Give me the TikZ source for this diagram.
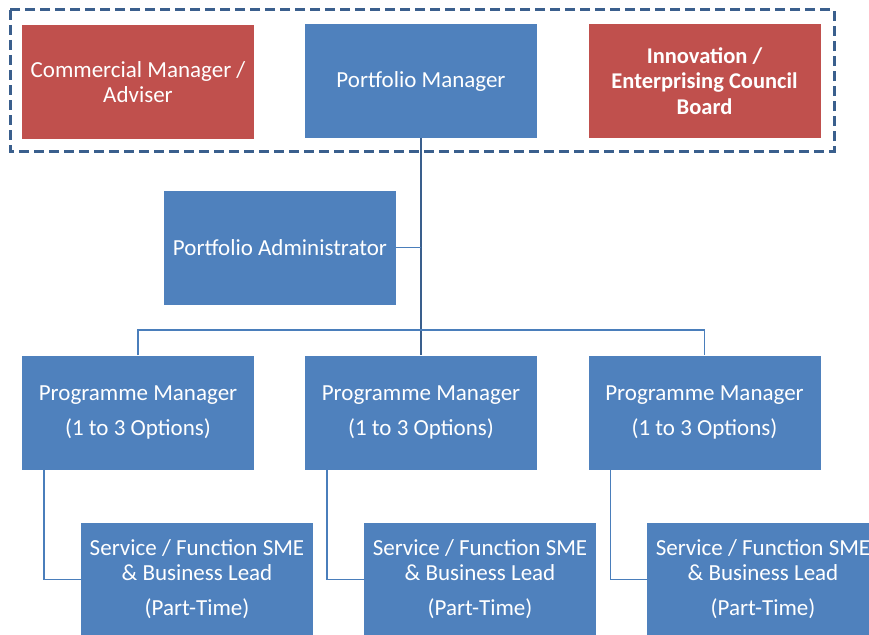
\documentclass[tikz,border=0pt]{standalone}
\usepackage{fontspec}
\setmainfont{Carlito}
\usepackage{tikz}
\usetikzlibrary{positioning}
\usepackage{xcolor}
\definecolor{orgblue}{RGB}{79,129,189}
\definecolor{orgred}{RGB}{192,80,77}
\definecolor{orgline}{RGB}{74,126,187}
\definecolor{orgframe}{RGB}{58,95,141}
\tikzstyle{link} = [line width=1.5pt,color=orgline]

\begin{document}
\begin{tikzpicture}[x=1pt,y=-1pt,
    role/.style={rectangle, minimum width=232pt, minimum height=114pt, inner sep=0pt,
                 align=center, text=white, font=\fontsize{23}{25}\selectfont},
    blue/.style={role, fill=orgblue},
    red/.style={role, fill=orgred}
]
\clip (0,0) rectangle (869,634);

% Top row inside the dashed frame
\draw[orgframe, line width=3pt, dash pattern=on 10pt off 5pt] (10,10) rectangle (834,151);
\node[red] (cm) at (138,82) {Commercial Manager /\\Adviser};
\node[blue] (pm) at (421,81) {Portfolio Manager};
\node[red, font=\fontsize{22.5}{25.5}\selectfont\bfseries] (board) at (704.5,81)
    {Innovation /\\Enterprising Council\\Board};

% Administrator
\node[blue] (adm) at (280,247.5) {Portfolio Administrator};

% Programme managers
\node[blue] (pg1) at (138,412.5) {Programme Manager\\[10pt](1 to 3 Options)};
\node[blue] (pg2) at (421,412.5) {Programme Manager\\[10pt](1 to 3 Options)};
\node[blue] (pg3) at (704.5,412.5) {Programme Manager\\[10pt](1 to 3 Options)};

% Part-time leads
\node[blue] (sme1) at (197,579.5) {Service / Function SME\\\& Business Lead\\[10pt](Part-Time)};
\node[blue] (sme2) at (480,579.5) {Service / Function SME\\\& Business Lead\\[10pt](Part-Time)};
\node[blue] (sme3) at (763,579.5) {Service / Function SME\\\& Business Lead\\[10pt](Part-Time)};

% Connectors
\coordinate (bus) at (421,330);
\draw[link, line width=2pt, orgframe] (pm.south) -- (pg2.north);
\draw[link] (adm.east) -- (adm.east -| pm.south);
\draw[link] (pg1.north) |- (bus) -| (pg3.north);
\draw[link] ([xshift=22pt]pg1.south west) |- (sme1.west);
\draw[link] ([xshift=22pt]pg2.south west) |- (sme2.west);
\draw[link] ([xshift=22pt]pg3.south west) |- (sme3.west);
\end{tikzpicture}
\end{document}
